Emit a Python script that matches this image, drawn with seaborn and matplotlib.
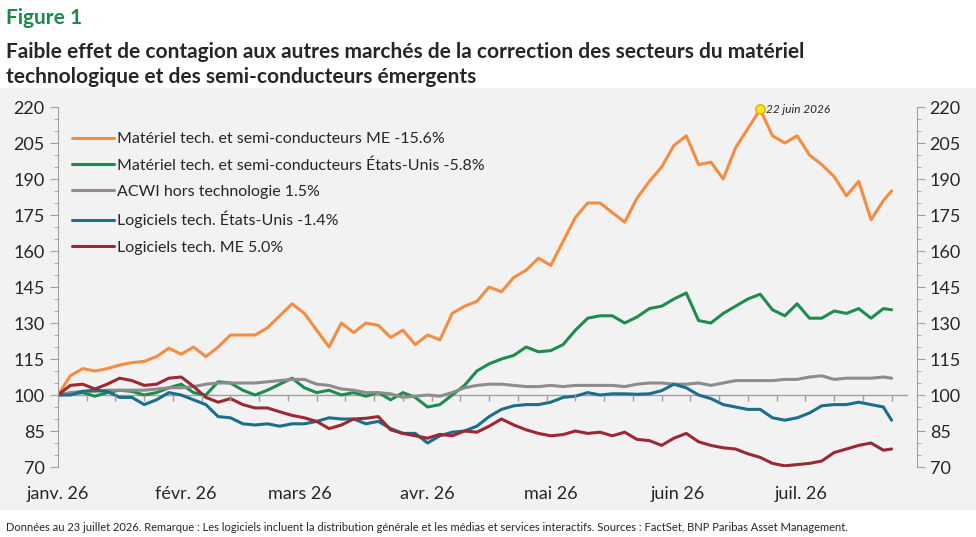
import numpy as np
import pandas as pd
import seaborn as sns
import matplotlib.pyplot as plt
from matplotlib.patches import Rectangle

# jours depuis le 1er janvier 2026
days = list(range(0, 202, 3)) + [203]

orange = [100, 108, 111, 110, 111, 112.5, 113.5, 114, 116, 119.5, 117, 120, 116, 120, 125, 125, 125, 128,
          133, 138, 134, 127, 120, 130, 126, 130, 129, 124, 127, 121, 125, 123, 134, 137, 139, 145, 143,
          149, 152, 157, 154, 164, 174, 180, 180, 176, 172, 182, 189, 195, 204, 208, 196, 197, 190, 203,
          211, 219, 208, 205, 208, 200, 196, 191, 183, 189, 173, 181, 185]
green = [100, 100.5, 101, 99.5, 101, 102, 101.5, 100, 101, 103, 104.5, 101, 100, 105.5, 105, 102, 100, 102,
         104.5, 107, 103, 101, 102, 100, 101, 99.5, 101, 98, 101, 99, 95, 96, 100, 104, 110, 113, 115,
         116.5, 120, 118, 118.5, 121, 127, 132, 133, 133, 130, 132.5, 136, 137, 140, 142.5, 131, 130, 134,
         137, 140, 142, 135.5, 133, 138, 132, 132, 135, 134, 136, 132, 136, 135.5]
gray = [100, 101, 101.5, 101.5, 102, 102, 102, 102, 102.5, 103, 103, 103.5, 104.5, 105, 105, 105, 105, 105.5,
        106, 106.5, 106.5, 104.5, 104, 102.5, 102, 101, 101, 100.5, 99, 99.5, 100, 99.5, 101, 103, 104,
        104.5, 104.5, 104, 103.5, 103.5, 104, 103.5, 104, 104, 104, 104, 103.5, 104.5, 105, 105, 104.5,
        104.5, 105, 104, 105, 106, 106, 106, 106, 106.5, 106.5, 107.5, 108, 106.5, 107, 107, 107, 107.5, 107]
blue = [100, 100, 101.5, 102, 101.5, 99, 99, 96, 98, 101, 100, 98, 96, 91, 90.5, 88, 87.5, 88, 87, 88, 88,
        89, 90.5, 90, 90, 88, 89, 86, 84, 84, 80, 83, 84.5, 85, 87, 91, 94, 95.5, 96, 96, 97, 99, 99.5,
        101, 100, 100.5, 100.5, 100.3, 100.5, 101.8, 104.5, 103, 100, 98.5, 96, 95, 94, 94, 90.5, 89.5,
        90.5, 92.5, 95.5, 96, 96, 97, 96, 95, 89.5]
red = [100, 104, 104.5, 102.5, 104.5, 107, 106, 104, 104.5, 107, 107.5, 103.6, 99, 97, 98.5, 96, 94.6,
       94.6, 93, 91.5, 90.5, 89, 86, 87.5, 90, 90.3, 91, 85.5, 84, 83, 82, 83.6, 83, 85, 84.5, 87, 90,
       87.5, 85.5, 84, 83, 83.5, 85, 84, 84.5, 83, 84.5, 81.5, 81, 79, 82, 84, 80.5, 79, 78, 77.5, 75.5,
       74, 71.5, 70.5, 71, 71.5, 72.5, 76, 77.5, 79, 80, 77, 77.5]

labels = ['Matériel tech. et semi-conducteurs ME -15.6%',
          'Matériel tech. et semi-conducteurs États-Unis -5.8%',
          'ACWI hors technologie 1.5%',
          'Logiciels tech. États-Unis -1.4%',
          'Logiciels tech. ME 5.0%']
colors = ['#F58C3F', '#1E8C4E', '#8C8C8C', '#1B6E8C', '#9B2832']
month_labels = ['janv. 26', 'févr. 26', 'mars 26', 'avr. 26', 'mai 26', 'juin 26', 'juil. 26']

dates = pd.Timestamp('2026-01-01') + pd.to_timedelta(days, unit='D')
df = pd.DataFrame({lab: s for lab, s in zip(labels, [orange, green, gray, blue, red])}, index=dates)
long = df.reset_index(names='date').melt(id_vars='date', var_name='serie', value_name='val')

sns.set_style('white')
plt.rcParams['font.family'] = ['Lato', 'DejaVu Sans']

fig = plt.figure(figsize=(9.76, 5.37), dpi=100)
# fond gris de la zone graphique
fig.add_artist(Rectangle((0, 27 / 537), 1, 422 / 537, transform=fig.transFigure,
                         facecolor='#F2F2F2', edgecolor='none', zorder=-10))
ax = fig.add_axes([58 / 976, 1 - 467 / 537, (908 - 58) / 976, (467 - 107) / 537])
ax.set_facecolor('none')
ax.set_xlim(dates[0], dates[-1] + pd.Timedelta(days=4))

sns.lineplot(data=long, x='date', y='val', hue='serie', palette=colors, linewidth=2.2, ax=ax, legend=False)

# point haut
imax = int(np.argmax(orange))
ax.scatter([dates[imax]], [orange[imax]], s=45, color='#FFE81A', edgecolor='#E0B000', zorder=5, clip_on=False)
ax.text(dates[imax] + pd.Timedelta(days=1.5), orange[imax], '22 juin 2026', fontsize=8.5, style='italic',
        va='center', ha='left')

ax.set_ylim(70, 220)
ax.set_yticks(range(70, 221, 15))
ax.set_yticks(range(70, 221, 5), minor=True)
ax.tick_params(axis='y', which='major', labelsize=13, length=6, color='#A0A0A0', left=True)
ax.tick_params(axis='y', which='minor', length=3, color='#A0A0A0', left=True)
for s in ['top', 'right', 'bottom']:
    ax.spines[s].set_visible(False)
ax.spines['left'].set_color('#A0A0A0')

ax2 = ax.twinx()
ax2.set_ylim(70, 220)
ax2.set_yticks(range(70, 221, 15))
ax2.set_yticks(range(70, 221, 5), minor=True)
ax2.tick_params(axis='y', which='major', labelsize=13, length=6, color='#A0A0A0', right=True)
ax2.tick_params(axis='y', which='minor', length=3, color='#A0A0A0', right=True)
for s in ['top', 'left', 'bottom']:
    ax2.spines[s].set_visible(False)
ax2.spines['right'].set_color('#A0A0A0')
ax2.spines['right'].set_position(('axes', 1.01))

# axe horizontal à 100 avec graduations hebdomadaires
ax.axhline(100, color='#A0A0A0', linewidth=1, zorder=1)
weeks = pd.date_range('2026-01-01', dates[-1], freq='7D')
ax.vlines(weeks, 100, 97.5, color='#A0A0A0', linewidth=1)

months = pd.date_range('2026-01-01', periods=7, freq='MS')
ax.set_xticks(months)
ax.set_xticklabels(month_labels, fontsize=13)
ax.tick_params(axis='x', length=0, pad=14)
ax.set_xlabel('')
ax.set_ylabel('')

handles = [plt.Line2D([], [], color=c, linewidth=2.2) for c in colors]
ax.legend(handles, labels, loc='upper left', bbox_to_anchor=(0.0, 0.97), frameon=False, fontsize=11.5,
          handlelength=2.6, handletextpad=0.2, labelspacing=0.75)

fig.text(0.006, 0.955, 'Figure 1', fontsize=15, fontweight='bold', color='#1A8A4A')
fig.text(0.006, 0.845, 'Faible effet de contagion aux autres marchés de la correction des secteurs du matériel\n'
         'technologique et des semi-conducteurs émergents', fontsize=15, fontweight='bold', linespacing=1.3)
fig.text(0.006, 0.012, 'Données au 23 juillet 2026. Remarque : Les logiciels incluent la distribution générale et '
         'les médias et services interactifs. Sources : FactSet, BNP Paribas Asset Management.', fontsize=8)

fig.savefig('out.png', dpi=100)
